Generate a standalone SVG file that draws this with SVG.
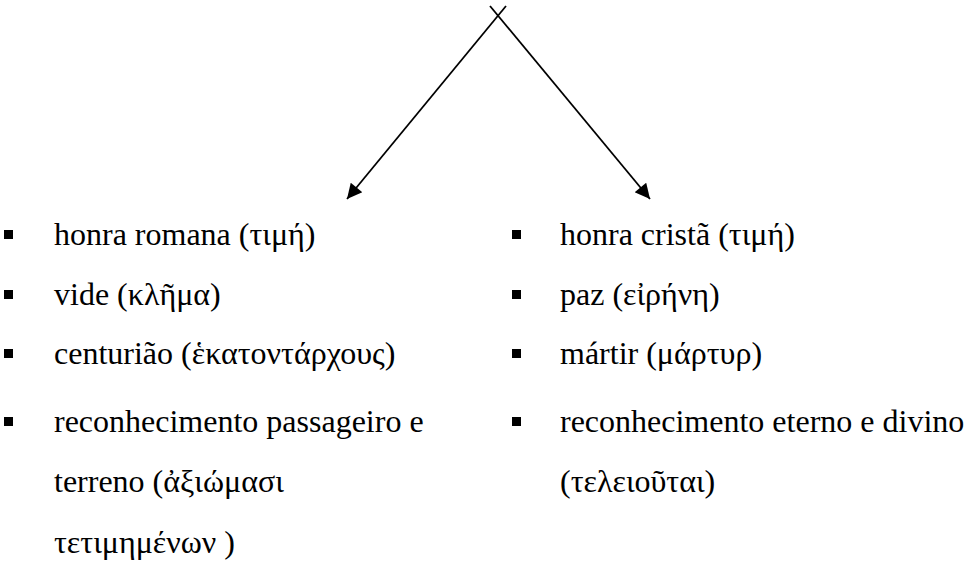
<svg xmlns="http://www.w3.org/2000/svg" width="968" height="567" viewBox="0 0 968 567">
<style>
.t{font-family:'Liberation Serif','Times New Roman',serif;font-size:32px;fill:#000}
.b{fill:#000}
.c{stroke:#000;stroke-width:1.8;fill:none}
</style>
<defs>
<marker id="ah" viewBox="0 0 10 10" refX="10" refY="5" markerWidth="19" markerHeight="15" markerUnits="userSpaceOnUse" orient="auto">
<path d="M0,0 L10,5 L0,10 z" fill="#000"/>
</marker>
</defs>
<rect width="968" height="567" fill="#fff"/>
<g id="connectors">
<line class="c" x1="506" y1="6" x2="347" y2="199" marker-end="url(#ah)"/>
<line class="c" x1="490" y1="6" x2="650" y2="199" marker-end="url(#ah)"/>
</g>
<g id="left" class="t">
<rect class="b" x="4" y="230" width="9" height="9"/>
<text x="54" y="245">honra romana (τιμή)</text>
<rect class="b" x="4" y="290" width="9" height="9"/>
<text x="54" y="305">vide (κλῆμα)</text>
<rect class="b" x="4" y="349" width="9" height="9"/>
<text x="54" y="364">centurião (ἑκατοντάρχους)</text>
<rect class="b" x="4" y="417" width="9" height="9"/>
<text x="54" y="432">reconhecimento passageiro e</text>
<text x="54" y="492">terreno (ἀξιώμασι</text>
<text x="54" y="553">τετιμημένων )</text>
</g>
<g id="right" class="t">
<rect class="b" x="512" y="230" width="9" height="9"/>
<text x="560" y="245">honra cristã (τιμή)</text>
<rect class="b" x="512" y="290" width="9" height="9"/>
<text x="560" y="305">paz (εἰρήνη)</text>
<rect class="b" x="512" y="349" width="9" height="9"/>
<text x="560" y="364">mártir (μάρτυρ)</text>
<rect class="b" x="512" y="417" width="9" height="9"/>
<text x="560" y="432">reconhecimento eterno e divino</text>
<text x="560" y="492">(τελειοῦται)</text>
</g>
</svg>
